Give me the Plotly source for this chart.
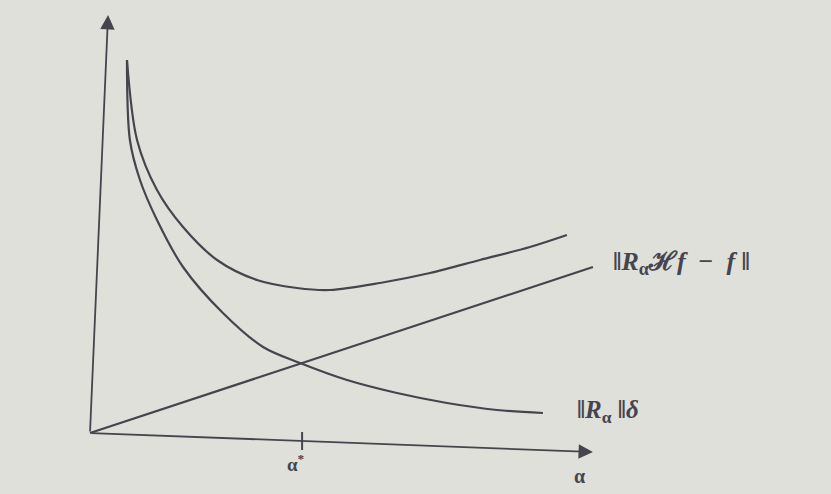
import plotly.graph_objects as go

# Data (alpha in units where alpha* = 1)
alpha_reg = [0.176, 0.19, 0.238, 0.319, 0.443, 0.633, 0.824, 1.0, 1.224, 1.462, 1.70, 1.938, 2.157]
norm_R_delta = [3.73, 2.93, 2.53, 2.13, 1.66, 1.20, 0.86, 0.70, 0.53, 0.40, 0.30, 0.23, 0.20]

alpha_tot = [0.176, 0.224, 0.319, 0.443, 0.605, 0.795, 0.986, 1.143, 1.381, 1.619, 1.857, 2.095, 2.271]
total_err = [3.73, 2.93, 2.43, 2.06, 1.73, 1.53, 1.45, 1.43, 1.50, 1.60, 1.73, 1.86, 1.98]

alpha_lin = [0.0, 1.0, 2.395]
approx_err = [0.0, 0.693, 1.66]

alpha_star = 1.0

INK = "#45454f"
BG = "#e0e0da"
FONT = "Liberation Serif, DejaVu Serif, serif"

fig = go.Figure()
for xs, ys in [(alpha_reg, norm_R_delta), (alpha_tot, total_err), (alpha_lin, approx_err)]:
    fig.add_trace(go.Scatter(x=xs, y=ys, mode="lines",
                             line=dict(color=INK, width=2.2, shape="spline", smoothing=0.9),
                             hoverinfo="skip", showlegend=False))

# axes as arrows (slightly tilted like the photographed figure)
fig.add_annotation(x=2.395, y=-0.19, ax=0.0, ay=0.0, xref="x", yref="y", axref="x", ayref="y",
                   showarrow=True, arrowhead=2, arrowsize=1.6, arrowwidth=1.8, arrowcolor=INK, text="")
fig.add_annotation(x=0.086, y=4.18, ax=0.0, ay=0.0, xref="x", yref="y", axref="x", ayref="y",
                   showarrow=True, arrowhead=2, arrowsize=1.6, arrowwidth=1.8, arrowcolor=INK, text="")
# tick at alpha*
fig.add_shape(type="line", x0=alpha_star + 0.01, x1=alpha_star + 0.01, y0=0.01, y1=-0.17,
              line=dict(color=INK, width=2))

fig.add_annotation(x=alpha_star - 0.02, y=-0.30, text="<b>α<sup>*</sup></b>", showarrow=False,
                   font=dict(family=FONT, size=19, color=INK))
fig.add_annotation(x=2.33, y=-0.43, text="<b>α</b>", showarrow=False,
                   font=dict(family=FONT, size=20, color=INK))
fig.add_annotation(x=2.48, y=1.70, xanchor="left", showarrow=False,
                   text="<b>‖<i>R</i><sub>α</sub>ℋ<i>f</i>  −  <i>f</i> ‖</b>",
                   font=dict(family=FONT, size=26, color=INK))
fig.add_annotation(x=2.31, y=0.22, xanchor="left", showarrow=False,
                   text="<b>‖<i>R</i><sub>α</sub> ‖<i>δ</i></b>",
                   font=dict(family=FONT, size=25, color=INK))

fig.update_layout(
    width=831, height=494,
    margin=dict(l=0, r=0, t=0, b=0),
    paper_bgcolor=BG, plot_bgcolor=BG,
    xaxis=dict(range=[-0.4286, 3.5286], visible=False, fixedrange=True),
    yaxis=dict(range=[-0.61, 4.33], visible=False, fixedrange=True),
    hovermode=False,
)

fig.write_html("out.html", config={"displayModeBar": False, "staticPlot": True},
               post_script="document.body.style.margin='0px';")
